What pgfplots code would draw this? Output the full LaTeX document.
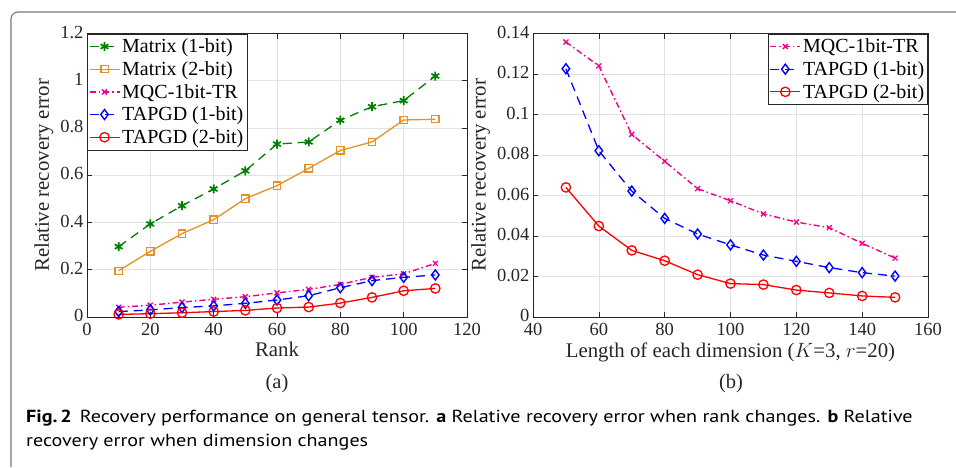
\documentclass[border=0pt]{standalone}
\usepackage{pgfplots}
\pgfplotsset{compat=1.18}
\usepackage{fontspec}
\setmainfont{Liberation Serif}
\newfontfamily\capfont[FakeStretch=1.15]{PT Sans}
\definecolor{mgreen}{RGB}{0,128,0}
\definecolor{morange}{RGB}{230,145,35}
\definecolor{axgray}{RGB}{38,38,38}
\definecolor{gridgray}{RGB}{226,226,226}
\definecolor{framegray}{RGB}{120,120,120}
\pgfplotsset{
  myax/.style={
    scale only axis,
    axis line style={axgray, line width=0.6pt},
    tick style={axgray, line width=0.6pt},
    major tick length=5pt,
    tick align=inside,
    grid=major,
    grid style={gridgray, line width=0.6pt},
    ticklabel style={font=\fontsize{18.5}{18.5}\selectfont, text=axgray},
    xticklabel style={yshift=-2.5pt},
    yticklabel style={yshift=1.5pt, /pgf/number format/fixed},
    label style={font=\fontsize{20.8}{20.8}\selectfont, text=axgray},
    /pgf/number format/assume math mode=true,
    scaled ticks=false,
    legend style={font=\fontsize{20}{21.5}\selectfont, text=black, draw=axgray, line width=0.6pt,
      at={(0,1)}, anchor=north west, inner xsep=1.5pt, inner ysep=3pt, row sep=3.3pt,
      cells={anchor=west}},
    legend image code/.code={\draw[mark repeat=2,mark phase=2] plot coordinates {(0pt,0pt)(15pt,0pt)(30pt,0pt)};},
  },
  sgreen/.style={mgreen, line width=1.3pt, dash pattern=on 9pt off 6pt, mark=asterisk, mark size=4.5pt, mark options={solid, line width=1.7pt}},
  sorange/.style={morange, line width=1.3pt, mark=square, mark size=3.6pt, mark options={solid, line width=1.2pt}},
  smag/.style={magenta, line width=1.4pt, dash pattern=on 6pt off 3pt on 1.5pt off 3pt, mark=x, mark size=3.5pt, mark options={solid, line width=1.3pt}},
  sblue/.style={blue, line width=1.3pt, dash pattern=on 9pt off 6pt, mark=diamond, mark size=5pt, mark options={solid, line width=1.4pt}},
  sred/.style={red, line width=1.3pt, mark=o, mark size=4.7pt, mark options={solid, line width=1.3pt}},
}
\begin{document}
\begin{tikzpicture}
\useasboundingbox (0,0) rectangle (956pt,-467pt);
\draw[framegray, line width=1.1pt, rounded corners=7pt] (11pt,-467pt) -- (11pt,-12pt) -- (956pt,-12pt);

\begin{axis}[myax, at={(87pt,-317pt)}, anchor=south west, width=380pt, height=283.5pt,
  xmin=0, xmax=120, ymin=0, ymax=1.2, xtick distance=20, ytick distance=0.2,
  xlabel={Rank}, ylabel={Relative recovery error}]
\addplot[sgreen] coordinates {(10,0.298)(20,0.394)(30,0.471)(40,0.542)(50,0.619)(60,0.732)(70,0.741)(80,0.833)(90,0.890)(100,0.916)(110,1.020)};
\addlegendentry{Matrix (1-bit)}
\addplot[sorange] coordinates {(10,0.196)(20,0.278)(30,0.353)(40,0.412)(50,0.501)(60,0.556)(70,0.629)(80,0.705)(90,0.741)(100,0.834)(110,0.837)};
\addlegendentry{Matrix (2-bit)}
\addplot[smag] coordinates {(10,0.041)(20,0.050)(30,0.063)(40,0.075)(50,0.086)(60,0.102)(70,0.117)(80,0.138)(90,0.168)(100,0.183)(110,0.227)};
\addlegendentry{MQC-1bit-TR}
\addplot[sblue] coordinates {(10,0.023)(20,0.030)(30,0.040)(40,0.047)(50,0.058)(60,0.072)(70,0.090)(80,0.124)(90,0.154)(100,0.168)(110,0.178)};
\addlegendentry{TAPGD (1-bit)}
\addplot[sred] coordinates {(10,0.011)(20,0.014)(30,0.018)(40,0.023)(50,0.028)(60,0.038)(70,0.042)(80,0.059)(90,0.083)(100,0.111)(110,0.121)};
\addlegendentry{TAPGD (2-bit)}
\end{axis}

\begin{axis}[myax, at={(533pt,-317pt)}, anchor=south west, width=395pt, height=283.5pt,
  xmin=40, xmax=160, ymin=0, ymax=0.14, xtick distance=20, ytick distance=0.02,
  legend style={at={(1,1)}, anchor=north east},
  xlabel={Length of each dimension ($K$=3, $r$=20)}, ylabel={Relative recovery error}]
\addplot[smag] coordinates {(50,0.1358)(60,0.1240)(70,0.0902)(80,0.0769)(90,0.0634)(100,0.0574)(110,0.0509)(120,0.0469)(130,0.0441)(140,0.0364)(150,0.0291)};
\addlegendentry{MQC-1bit-TR}
\addplot[sblue] coordinates {(50,0.1226)(60,0.0821)(70,0.0622)(80,0.0487)(90,0.0410)(100,0.0356)(110,0.0306)(120,0.0275)(130,0.0244)(140,0.0219)(150,0.0202)};
\addlegendentry{TAPGD (1-bit)}
\addplot[sred] coordinates {(50,0.0640)(60,0.0449)(70,0.0329)(80,0.0278)(90,0.0209)(100,0.0165)(110,0.0160)(120,0.0133)(130,0.0119)(140,0.0104)(150,0.0097)};
\addlegendentry{TAPGD (2-bit)}
\end{axis}

\node[font=\fontsize{20.5}{20.5}\selectfont, text=axgray] at (277pt,-384pt) {(a)};
\node[font=\fontsize{20.5}{20.5}\selectfont, text=axgray] at (731pt,-384pt) {(b)};

\node[anchor=base west, inner sep=0pt, font=\capfont\fontsize{17.5}{17.5}\selectfont] at (26pt,-422pt)
  {\textbf{Fig.\,2}\hspace{0.45em}Recovery performance on general tensor. \textbf{a} Relative recovery error when rank changes. \textbf{b} Relative};
\node[anchor=base west, inner sep=0pt, font=\capfont\fontsize{17.5}{17.5}\selectfont] at (26pt,-446pt)
  {recovery error when dimension changes};
\end{tikzpicture}
\end{document}
